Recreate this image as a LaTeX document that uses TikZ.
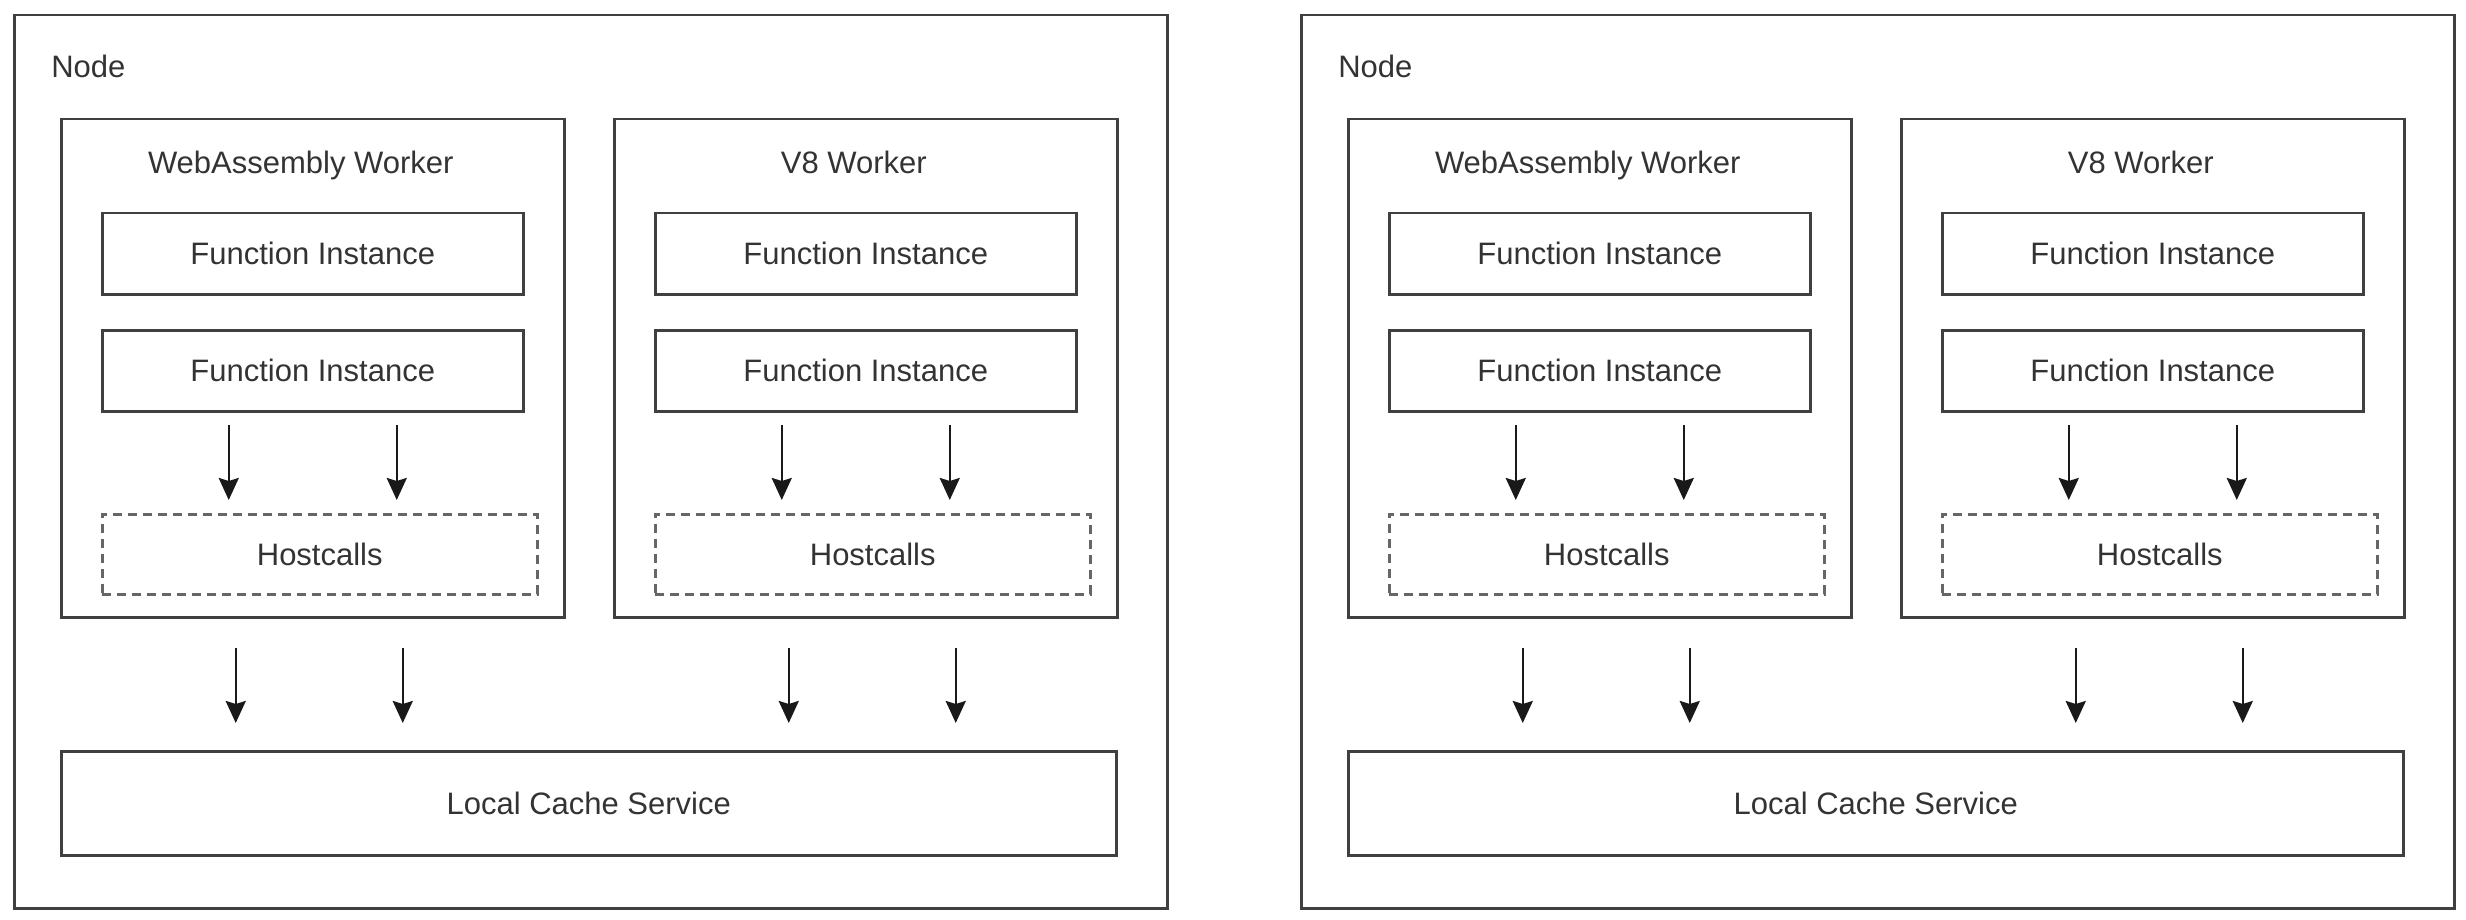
\documentclass[tikz,border=0pt]{standalone}
\usepackage{fontspec}
\setmainfont{Liberation Sans}
\usetikzlibrary{arrows.meta}

\begin{document}
\begin{tikzpicture}[x=1pt,y=-1pt,>={Stealth[length=22pt,width=20pt,inset=3pt]},line width=2.5pt]
 \tikzstyle{box} = [draw=black!75,anchor=north west,inner sep=0,text=black!80,font=\fontsize{31}{37}\selectfont]
 \tikzstyle{hostbox} = [box,draw=black!60,dash pattern=on 9pt off 6pt]
 \tikzstyle{txt} = [inner sep=0,text=black!80,font=\fontsize{31}{37}\selectfont]
 \tikzstyle{call} = [->,black!90]
 \newcommand{\fiw}{421pt}
 \newcommand{\fih}{81pt}

  \useasboundingbox (0,0) rectangle (2466,920);

  \foreach \p/\ox in {l/0,r/1287} {
    % Outer node
    \node[box,minimum width=1153pt,minimum height=893pt] (\p-node) at (13+\ox,14) {};
    \node[txt,anchor=west] (\p-title) at (50+\ox,66) {Node};

    % Workers
    \foreach \w/\wx/\name in {wa/60/WebAssembly Worker,v8/613/V8 Worker} {
      \node[box,minimum width=503pt,minimum height=498pt] (\p-\w) at (\wx+\ox,118) {};
      \node[txt,anchor=base] (\p-\w-title) at ([xshift=-12pt,yshift=-56pt]\p-\w.north) {\name};
      \node[box,minimum width=\fiw,minimum height=\fih] (\p-\w-fa) at (\wx+41+\ox,212) {Function Instance};
      \node[box,minimum width=\fiw,minimum height=\fih] (\p-\w-fb) at (\wx+41+\ox,329) {Function Instance};
      \node[hostbox,minimum width=435pt,minimum height=80pt] (\p-\w-hc) at (\wx+41+\ox,513) {Hostcalls};
      \foreach \dx in {-84,84} {
        \coordinate (\p-\w-s) at ([xshift=\dx pt]\p-\w-fb.south);
        \draw[call,shorten <=12pt,shorten >=13pt] (\p-\w-s) -- (\p-\w-s |- \p-\w-hc.north);
      }
    }

    % Cache
    \node[box,minimum width=1055pt,minimum height=104pt] (\p-cache) at (60+\ox,750) {Local Cache Service};
    \foreach \w in {wa,v8}
      \foreach \dx in {-77,90} {
        \coordinate (\p-\w-c) at ([xshift=\dx pt]\p-\w.south);
        \draw[call,shorten <=29pt,shorten >=27pt] (\p-\w-c) -- (\p-\w-c |- \p-cache.north);
      }
  }

\end{tikzpicture}
\end{document}
